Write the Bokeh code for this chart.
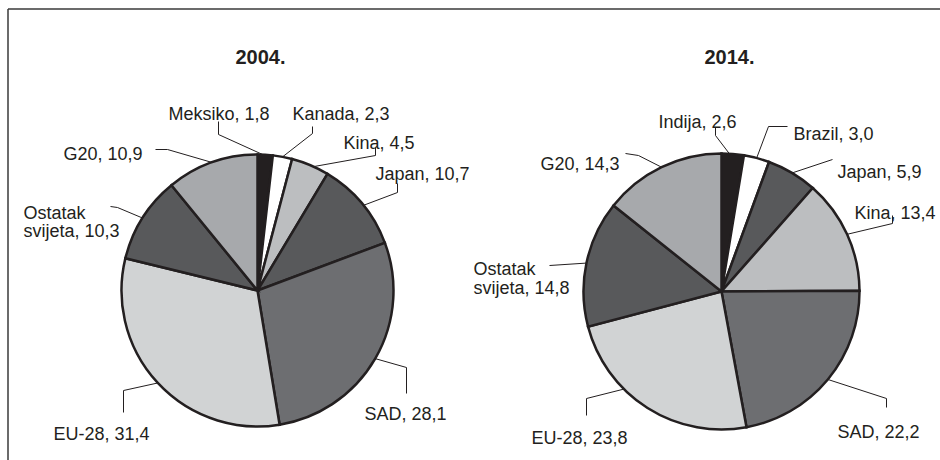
import math
from bokeh.plotting import figure
from bokeh.models import Range1d, ColumnDataSource
from bokeh.core.properties import value
from bokeh.embed import file_html
from bokeh.resources import INLINE

# ---------------- data ----------------
titles = ["2004.", "2014."]

names_2004 = ["Meksiko", "Kanada", "Kina", "Japan", "SAD", "EU-28", "Ostatak svijeta", "G20"]
values_2004 = [1.8, 2.3, 4.5, 10.7, 28.1, 31.4, 10.3, 10.9]

names_2014 = ["Indija", "Brazil", "Japan", "Kina", "SAD", "EU-28", "Ostatak svijeta", "G20"]
values_2014 = [2.6, 3.0, 5.9, 13.4, 22.2, 23.8, 14.8, 14.3]

colors_2004 = ["#231f20", "#ffffff", "#bcbec0", "#58595b", "#6d6e71", "#d1d3d4", "#58595b", "#a7a9ac"]
colors_2014 = ["#231f20", "#ffffff", "#58595b", "#bcbec0", "#6d6e71", "#d1d3d4", "#58595b", "#a7a9ac"]

# ---------------- layout (page pixel coordinates) ----------------
W, H = 940, 460
OX, OY = 0, 0


def dx(X):
    return X - OX


def dy(Y):
    return OY + H - Y


TXT = "#231f20"
FONT = value("Liberation Sans")

pies = [
    dict(cx=257, cy=290, r=136, names=names_2004, vals=values_2004, cols=colors_2004,
         title_x=260,
         # label left x, baseline(s)
         lab=[(168, [113]), (292, [113]), (343, [142]), (375, [173]), (364, [413]),
              (53, [433]), (23, [212, 230]), (63, [153])],
         lead=[[(218, 121), (218, 134)], [(312, 126), (312, 133)], [(375, 147), (375, 155)],
               [(397, 183), (397, 192)], [(406, 393), (406, 367)], [(123, 412), (123, 390)],
               [(110, 206), (117, 207)], [(155, 149), (167, 149)]],
         off=[-1, 0, 1.5, 1, 0, 0, 0, 0]),
    dict(cx=721, cy=291, r=138, names=names_2014, vals=values_2014, cols=colors_2014,
         title_x=729,
         lab=[(658, [121]), (793, [133]), (837, [171]), (854, [212]), (837, [431]),
              (531, [437]), (473, [268, 287]), (540, [163])],
         lead=[[(715, 127), (715, 135)], [(787, 126), (768, 126)], [(832, 159)],
               [(892, 215), (892, 223)], [(886, 407), (886, 398)], [(586, 415), (586, 398)],
               [(549, 265)], [(625, 153), (638, 155)]],
         off=[-1.4, 0, 0, 0, 0, 12.6, 0, 0]),
]

p = figure(width=W, height=H, x_range=Range1d(0, W), y_range=Range1d(0, H),
           output_backend="svg", toolbar_location=None,
           x_axis_location=None, y_axis_location=None, min_border=0,
           outline_line_color=None, background_fill_color="white",
           border_fill_color="white")
p.grid.visible = False

# frame (left and top edges)
p.line([dx(7.5), dx(7.5)], [0, dy(8.5)], line_color="#3a3a3a", line_width=1.5)
p.line([dx(7.5), W], [dy(8.5), dy(8.5)], line_color="#3a3a3a", line_width=1.5)


def fmt(v):
    return f"{v:.1f}".replace(".", ",")


for i, pie in enumerate(pies):
    vals = pie["vals"]
    tot = sum(vals)
    cum = [0.0]
    for v in vals:
        cum.append(cum[-1] + v / tot)
    starts = [math.pi / 2 - 2 * math.pi * cum[k + 1] for k in range(len(vals))]
    ends = [math.pi / 2 - 2 * math.pi * cum[k] for k in range(len(vals))]
    src = ColumnDataSource(dict(start=starts, end=ends, color=pie["cols"]))
    cx, cy, r = dx(pie["cx"]), dy(pie["cy"]), pie["r"]
    p.wedge(x=cx, y=cy, radius=r, start_angle="start", end_angle="end",
            fill_color="color", line_color="#231f20", line_width=2.5,
            line_join="miter", source=src)

    # title
    p.text(x=[dx(pie["title_x"])], y=[dy(56)], text=[titles[i]], text_font=FONT,
           text_font_size="20px", text_font_style="bold", text_align="center",
           text_baseline="alphabetic", text_color=TXT)

    # labels and leader lines
    for k, name in enumerate(pie["names"]):
        mid = (cum[k] + cum[k + 1]) / 2 * 360 + pie["off"][k]
        a = math.radians(mid)
        ax = cx + r * math.sin(a)
        ay = cy + r * math.cos(a)
        pts = pie["lead"][k]
        xs = [dx(X) for X, Y in pts] + [ax]
        ys = [dy(Y) for X, Y in pts] + [ay]
        p.line(xs, ys, line_color="#231f20", line_width=1)

        lx, bases = pie["lab"][k]
        if " " in name and len(bases) == 2:
            first, second = name.split(" ", 1)
            lines = [first, f"{second}, {fmt(vals[k])}"]
        else:
            lines = [f"{name}, {fmt(vals[k])}"]
        p.text(x=[dx(lx)] * len(lines), y=[dy(b) for b in bases], text=lines,
               text_font=FONT, text_font_size="18px", text_align="left",
               text_baseline="alphabetic", text_color=TXT)

open("out.html", "w").write(file_html(p, INLINE))
